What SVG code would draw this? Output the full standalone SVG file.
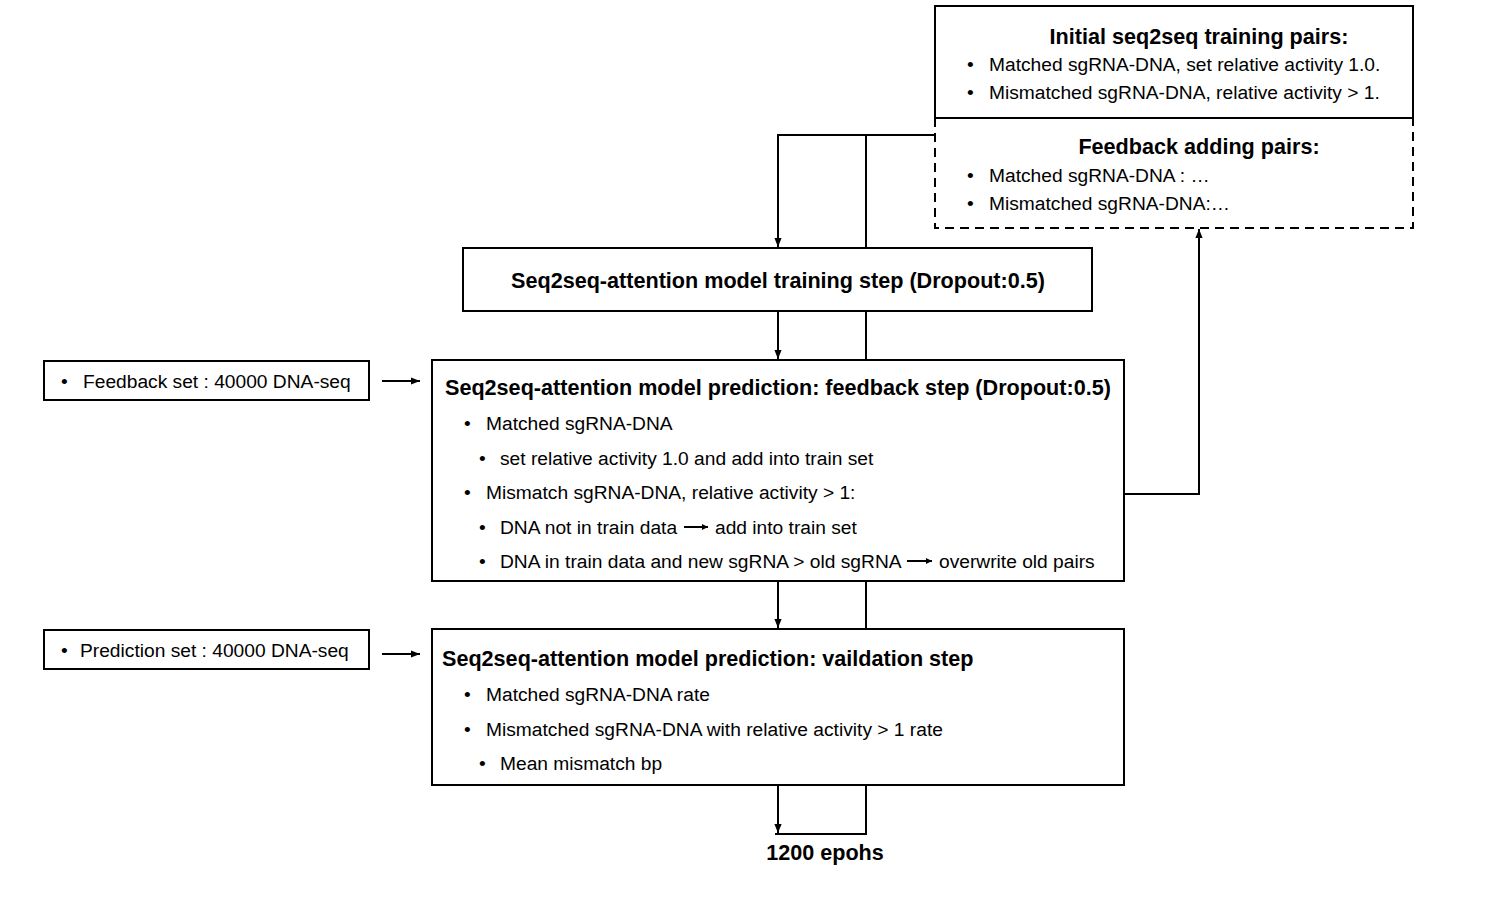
<svg xmlns="http://www.w3.org/2000/svg" width="1500" height="900" viewBox="0 0 1500 900">
<defs>
<style>
text{font-family:"Liberation Sans",Arial,sans-serif;fill:#000}
.t{font-size:21.6px;font-weight:bold}
.b{font-size:19.2px}
.box{fill:#fff;stroke:#000;stroke-width:2}
.ln{fill:none;stroke:#000;stroke-width:2}
.dash{fill:none;stroke:#000;stroke-width:2;stroke-dasharray:9,6}
</style>
<marker id="ah" viewBox="0 0 10 10" refX="10" refY="5" markerWidth="6" markerHeight="6" orient="auto" markerUnits="userSpaceOnUse">
<path d="M0,0 L10,5 L0,10 z" fill="#000"/>
</marker>
<marker id="ah2" viewBox="0 0 10 10" refX="10" refY="5" markerWidth="9" markerHeight="9" orient="auto" markerUnits="userSpaceOnUse">
<path d="M0,1 L10,5 L0,9 z" fill="#000"/>
</marker>
</defs>
<rect width="1500" height="900" fill="#fff"/>

<g id="connectors">
<polyline class="ln" points="935,135 778,135 778,247" marker-end="url(#ah2)"/>
<line class="ln" x1="866" y1="135" x2="866" y2="248"/>
<line class="ln" x1="778" y1="311" x2="778" y2="359" marker-end="url(#ah2)"/>
<line class="ln" x1="866" y1="311" x2="866" y2="360"/>
<line class="ln" x1="778" y1="581" x2="778" y2="628" marker-end="url(#ah2)"/>
<line class="ln" x1="866" y1="581" x2="866" y2="629"/>
<line class="ln" x1="778" y1="785" x2="778" y2="833" marker-end="url(#ah2)"/>
<polyline class="ln" points="866,785 866,834 775,834"/>
<polyline class="ln" points="1124,494 1199,494 1199,229" marker-end="url(#ah2)"/>
<line class="ln" x1="382" y1="381" x2="420" y2="381" marker-end="url(#ah2)"/>
<line class="ln" x1="382" y1="654" x2="420" y2="654" marker-end="url(#ah2)"/>
</g>

<g id="initial-pairs">
<rect class="box" x="935" y="6" width="478" height="112"/>
<text class="t" x="1199" y="44" text-anchor="middle">Initial seq2seq training pairs:</text>
<text class="b" x="967" y="71">•</text>
<text class="b" x="989" y="71">Matched sgRNA-DNA, set relative activity 1.0.</text>
<text class="b" x="967" y="99">•</text>
<text class="b" x="989" y="99">Mismatched sgRNA-DNA, relative activity &gt; 1.</text>
</g>

<g id="feedback-pairs">
<polyline class="dash" points="935,118 935,228 1413,228 1413,118"/>
<text class="t" x="1199" y="154" text-anchor="middle">Feedback adding pairs:</text>
<text class="b" x="967" y="182">•</text>
<text class="b" x="989" y="182">Matched sgRNA-DNA : …</text>
<text class="b" x="967" y="210">•</text>
<text class="b" x="989" y="210">Mismatched sgRNA-DNA:…</text>
</g>

<g id="training">
<rect class="box" x="463" y="248" width="629" height="63"/>
<text class="t" x="778" y="288" text-anchor="middle">Seq2seq-attention model training step (Dropout:0.5)</text>
</g>

<g id="feedback-set">
<rect class="box" x="44" y="361" width="325" height="39"/>
<text class="b" x="61" y="388">•</text>
<text class="b" x="83" y="388">Feedback set : 40000 DNA-seq</text>
</g>

<g id="feedback-step">
<rect class="box" x="432" y="360" width="692" height="221"/>
<text class="t" x="445" y="395">Seq2seq-attention model prediction: feedback step (Dropout:0.5)</text>
<text class="b" x="464" y="430">•</text>
<text class="b" x="486" y="430">Matched sgRNA-DNA</text>
<text class="b" x="479" y="465">•</text>
<text class="b" x="500" y="465">set relative activity 1.0 and add into train set</text>
<text class="b" x="464" y="499">•</text>
<text class="b" x="486" y="499">Mismatch sgRNA-DNA, relative activity &gt; 1:</text>
<text class="b" x="479" y="534">•</text>
<text class="b" x="500" y="534">DNA not in train data</text>
<line class="ln" x1="684" y1="527" x2="708" y2="527" marker-end="url(#ah)"/>
<text class="b" x="715" y="534">add into train set</text>
<text class="b" x="479" y="568">•</text>
<text class="b" x="500" y="568">DNA in train data and new sgRNA &gt; old sgRNA</text>
<line class="ln" x1="907" y1="561" x2="932" y2="561" marker-end="url(#ah)"/>
<text class="b" x="939" y="568">overwrite old pairs</text>
</g>

<g id="prediction-set">
<rect class="box" x="44" y="630" width="325" height="39"/>
<text class="b" x="61" y="657">•</text>
<text class="b" x="80" y="657">Prediction set : 40000 DNA-seq</text>
</g>

<g id="validation-step">
<rect class="box" x="432" y="629" width="692" height="156"/>
<text class="t" x="442" y="666">Seq2seq-attention model prediction: vaildation step</text>
<text class="b" x="464" y="701">•</text>
<text class="b" x="486" y="701">Matched sgRNA-DNA rate</text>
<text class="b" x="464" y="736">•</text>
<text class="b" x="486" y="736">Mismatched sgRNA-DNA with relative activity &gt; 1 rate</text>
<text class="b" x="479" y="770">•</text>
<text class="b" x="500" y="770">Mean mismatch bp</text>
</g>

<g id="epochs">
<text class="t" x="825" y="860" text-anchor="middle">1200 epohs</text>
</g>
</svg>
